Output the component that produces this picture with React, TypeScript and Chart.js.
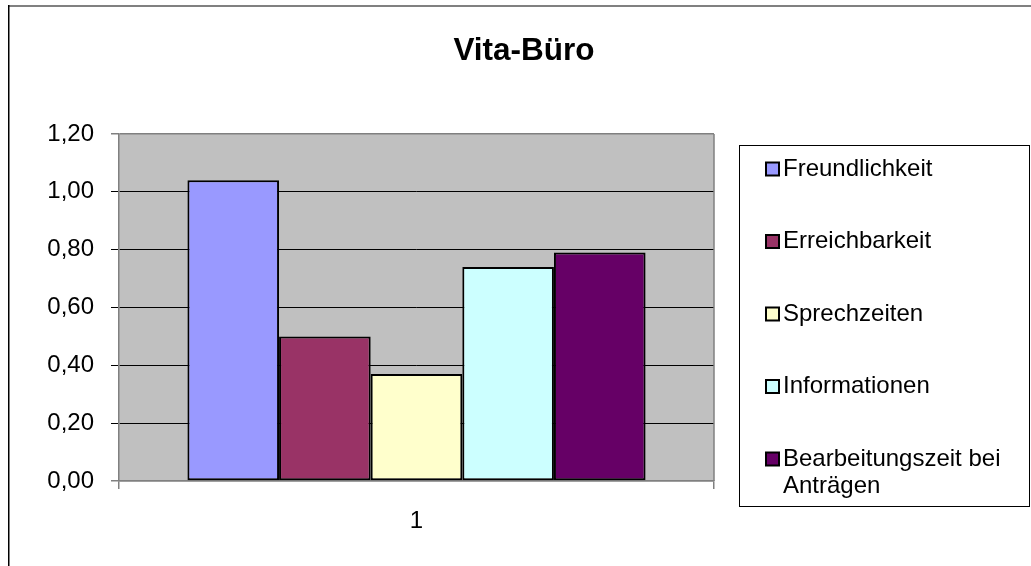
import React, { useEffect, useRef } from "react";
import { Chart, registerables } from "chart.js";

Chart.register(...registerables);

const TITLE = "Vita-Büro";
const categories = ["1"];
const seriesNames = [
  "Freundlichkeit",
  "Erreichbarkeit",
  "Sprechzeiten",
  "Informationen",
  "Bearbeitungszeit bei Anträgen",
];
const freundlichkeit = [1.04];
const erreichbarkeit = [0.5];
const sprechzeiten = [0.37];
const informationen = [0.74];
const bearbeitungszeit = [0.79];
const seriesColors = ["#9999FF", "#993366", "#FFFFCC", "#CCFFFF", "#660066"];
const yTicks = [0, 0.2, 0.4, 0.6, 0.8, 1.0, 1.2];

const FONT = '"Liberation Sans", Arial, sans-serif';

const isEdge = (v: number) => Math.abs(v - 1.2) < 1e-6 || Math.abs(v) < 1e-6;

const framePlugin = {
  id: "frame",
  beforeDraw(chart: any) {
    const { ctx, chartArea } = chart;
    ctx.save();
    ctx.fillStyle = "#ffffff";
    ctx.fillRect(0, 0, chart.width, chart.height);
    // outer chart border
    ctx.fillStyle = "#808080";
    ctx.fillRect(8, 5, chart.width - 8, 2);
    ctx.fillStyle = "#000000";
    ctx.fillRect(8, 5, 1.5, chart.height - 5);
    // plot area background
    ctx.fillStyle = "#C0C0C0";
    ctx.fillRect(
      chartArea.left,
      chartArea.top,
      chartArea.right - chartArea.left,
      chartArea.bottom - chartArea.top
    );
    // title
    ctx.fillStyle = "#000000";
    ctx.font = `bold 31.5px ${FONT}`;
    ctx.textAlign = "center";
    ctx.textBaseline = "alphabetic";
    ctx.fillText(TITLE, 524, 60);
    ctx.restore();
  },
  beforeDatasetsDraw(chart: any) {
    const { ctx, chartArea } = chart;
    ctx.save();
    ctx.strokeStyle = "#808080";
    ctx.lineWidth = 1.5;
    ctx.beginPath();
    ctx.moveTo(chartArea.right, chartArea.top);
    ctx.lineTo(chartArea.right, chartArea.bottom);
    ctx.stroke();
    ctx.restore();
  },
  afterDraw(chart: any) {
    const { ctx } = chart;
    const boxL = 739.5,
      boxT = 145.5,
      boxR = 1029.5,
      boxB = 506.5;
    ctx.save();
    ctx.strokeStyle = "#000000";
    ctx.lineWidth = 1;
    ctx.strokeRect(boxL, boxT, boxR - boxL, boxB - boxT);
    ctx.font = `24px ${FONT}`;
    ctx.textBaseline = "middle";
    ctx.textAlign = "left";
    const textX = 783;
    const maxW = boxR - textX - 4;
    const step = 72.5;
    chart.data.datasets.forEach((ds: any, i: number) => {
      const cy = 169 + i * step;
      ctx.fillStyle = ds.backgroundColor;
      ctx.fillRect(766, cy - 6.5, 13, 13);
      ctx.strokeStyle = "#000";
      ctx.lineWidth = 2;
      ctx.strokeRect(766, cy - 6.5, 13, 13);
      const words = String(ds.label).split(" ");
      const lines: string[] = [];
      let cur = "";
      words.forEach((w) => {
        const t = cur ? cur + " " + w : w;
        if (ctx.measureText(t).width > maxW && cur) {
          lines.push(cur);
          cur = w;
        } else cur = t;
      });
      if (cur) lines.push(cur);
      ctx.fillStyle = "#000";
      lines.forEach((ln, j) => ctx.fillText(ln, textX, cy + j * 27));
    });
    ctx.restore();
  },
};

export default function App() {
  const ref = useRef<HTMLCanvasElement | null>(null);
  useEffect(() => {
    if (!ref.current) return;
    const values = [freundlichkeit, erreichbarkeit, sprechzeiten, informationen, bearbeitungszeit];
    const chart = new Chart(ref.current, {
      type: "bar",
      data: {
        labels: categories,
        datasets: seriesNames.map((name, i) => ({
          label: name,
          data: values[i],
          backgroundColor: seriesColors[i],
          borderColor: "#000000",
          borderWidth: 2,
          borderSkipped: false,
          categoryPercentage: 0.77,
          barPercentage: 1.0,
        })),
      },
      options: {
        responsive: false,
        animation: false,
        layout: { padding: { left: 0, right: 317, top: 134, bottom: 0 } },
        plugins: {
          legend: { display: false },
          title: { display: false },
          tooltip: { enabled: false },
        },
        scales: {
          x: {
            grid: {
              offset: true,
              drawOnChartArea: false,
              drawTicks: true,
              tickLength: 8,
              color: "#808080",
              lineWidth: 1.5,
            },
            border: { display: true, color: "#808080", width: 1.5 },
            ticks: { color: "#000", font: { family: FONT, size: 24 }, padding: 18 },
            afterFit: (axis: any) => {
              axis.height = 85;
            },
          },
          y: {
            min: 0,
            max: 1.2,
            afterBuildTicks: (axis: any) => {
              axis.ticks = yTicks.map((v) => ({ value: v }));
            },
            grid: {
              color: (c: any) => (c.tick && isEdge(c.tick.value) ? "#808080" : "#000000"),
              lineWidth: (c: any) => (c.tick && isEdge(c.tick.value) ? 1.5 : 1),
              tickColor: (c: any) => (c.tick && isEdge(c.tick.value) ? "#808080" : "#000000"),
              tickLength: 8,
              drawTicks: true,
            },
            border: { display: true, color: "#808080", width: 1.5 },
            ticks: {
              color: "#000",
              font: { family: FONT, size: 24 },
              padding: 17,
              callback: (v: any) => Number(v).toFixed(2).replace(".", ","),
            },
            afterFit: (axis: any) => {
              axis.width = 119;
            },
          },
        },
      },
      plugins: [framePlugin],
    });
    return () => chart.destroy();
  }, []);
  return (
    <div style={{ position: "fixed", left: 0, top: 0 }}>
      <canvas ref={ref} width={1031} height={566} style={{ display: "block" }} />
    </div>
  );
}
